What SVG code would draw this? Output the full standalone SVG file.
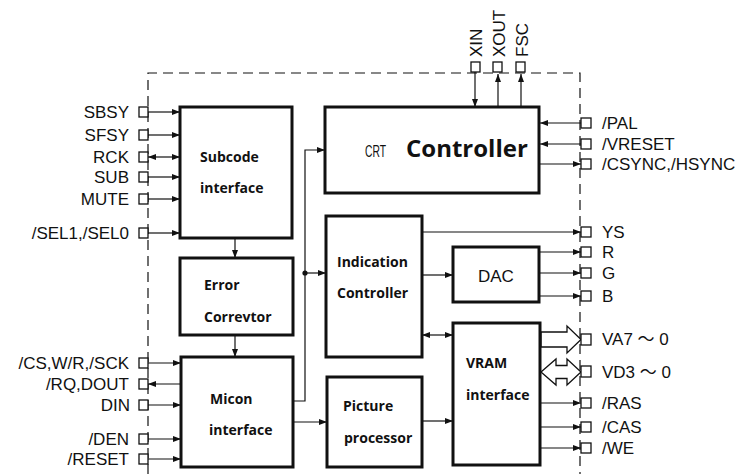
<svg xmlns="http://www.w3.org/2000/svg" width="741" height="474" viewBox="0 0 741 474">
<style>
.bg{fill:#fff}
.blk{fill:#fff;stroke:#111;stroke-width:3}
.pin{fill:#fff;stroke:#111;stroke-width:1.3}
.bnd{fill:none;stroke:#111;stroke-width:1.2;stroke-dasharray:10 6}
.ln{fill:none;stroke:#111;stroke-width:1.2}
.ha{fill:#fff;stroke:#111;stroke-width:1.3;stroke-linejoin:miter}
.lbl{font-family:"Liberation Sans",Arial,sans-serif;font-size:17px;fill:#111}
.bt{font-family:"Open Sans","Liberation Sans",sans-serif;font-weight:bold;font-size:14px;fill:#111}
.big{font-family:"Open Sans","Liberation Sans",sans-serif;font-weight:bold;font-size:24px;fill:#111}
.wv{font-family:"Liberation Sans","Noto Sans CJK JP",sans-serif}
</style>
<defs>
<marker id="ah" viewBox="0 0 8 6" refX="8" refY="3" markerWidth="8" markerHeight="6" markerUnits="userSpaceOnUse" orient="auto-start-reverse">
<path d="M0,0 L8,3 L0,6 z" fill="#111"/>
</marker>
</defs>
<rect class="bg" x="0" y="0" width="741" height="474"/>
<g id="boundary">
<path class="bnd" d="M148,474 V73 H580 V474"/>
</g>
<g id="connectors">
<line class="ln" x1="148" y1="112" x2="180" y2="112" marker-end="url(#ah)"/>
<line class="ln" x1="148" y1="135" x2="180" y2="135" marker-end="url(#ah)"/>
<line class="ln" x1="148" y1="157" x2="180" y2="157" marker-start="url(#ah)" marker-end="url(#ah)"/>
<line class="ln" x1="148" y1="177" x2="180" y2="177" marker-end="url(#ah)"/>
<line class="ln" x1="148" y1="199" x2="180" y2="199" marker-end="url(#ah)"/>
<line class="ln" x1="148" y1="233" x2="180" y2="233" marker-end="url(#ah)"/>
<line class="ln" x1="148" y1="363" x2="181" y2="363" marker-end="url(#ah)"/>
<line class="ln" x1="148" y1="384" x2="181" y2="384" marker-start="url(#ah)"/>
<line class="ln" x1="148" y1="405" x2="181" y2="405" marker-end="url(#ah)"/>
<line class="ln" x1="148" y1="439" x2="181" y2="439" marker-end="url(#ah)"/>
<line class="ln" x1="148" y1="459" x2="181" y2="459" marker-end="url(#ah)"/>
<line class="ln" x1="235" y1="238" x2="235" y2="258" marker-end="url(#ah)"/>
<line class="ln" x1="235" y1="335" x2="235" y2="357" marker-end="url(#ah)"/>
<path class="ln" d="M293,401 H305 V150 H325" marker-end="url(#ah)"/>
<circle cx="305" cy="273" r="2.6" fill="#111"/>
<line class="ln" x1="305" y1="273" x2="326" y2="273" marker-end="url(#ah)"/>
<line class="ln" x1="293" y1="422" x2="327" y2="422" marker-end="url(#ah)"/>
<line class="ln" x1="475" y1="72" x2="475" y2="107" marker-end="url(#ah)"/>
<line class="ln" x1="498" y1="107" x2="498" y2="74" marker-end="url(#ah)"/>
<line class="ln" x1="521" y1="107" x2="521" y2="74" marker-end="url(#ah)"/>
<line class="ln" x1="581" y1="123" x2="540" y2="123" marker-end="url(#ah)"/>
<line class="ln" x1="581" y1="144" x2="540" y2="144" marker-end="url(#ah)"/>
<line class="ln" x1="540" y1="164" x2="581" y2="164" marker-end="url(#ah)"/>
<line class="ln" x1="422" y1="232" x2="581" y2="232" marker-end="url(#ah)"/>
<line class="ln" x1="422" y1="275" x2="453" y2="275" marker-end="url(#ah)"/>
<line class="ln" x1="539" y1="252" x2="581" y2="252" marker-end="url(#ah)"/>
<line class="ln" x1="539" y1="273" x2="581" y2="273" marker-end="url(#ah)"/>
<line class="ln" x1="539" y1="296" x2="581" y2="296" marker-end="url(#ah)"/>
<line class="ln" x1="422" y1="335" x2="453" y2="335" marker-start="url(#ah)" marker-end="url(#ah)"/>
<line class="ln" x1="422" y1="421" x2="453" y2="421" marker-end="url(#ah)"/>
<line class="ln" x1="540" y1="403" x2="581" y2="403" marker-end="url(#ah)"/>
<line class="ln" x1="540" y1="427" x2="581" y2="427" marker-end="url(#ah)"/>
<line class="ln" x1="540" y1="448" x2="581" y2="448" marker-end="url(#ah)"/>
<polygon class="ha" points="541,332 567,332 567,326 581,339.5 567,353 567,347 541,347"/>
<polygon class="ha" points="541,372 556,359 556,365.5 567,365.5 567,359 581,372 567,385 567,378.5 556,378.5 556,385"/>
</g>
<g id="pins">
<rect class="pin" x="139" y="107" width="9" height="10"/>
<rect class="pin" x="139" y="130" width="9" height="10"/>
<rect class="pin" x="139" y="152" width="9" height="10"/>
<rect class="pin" x="139" y="172" width="9" height="10"/>
<rect class="pin" x="139" y="194" width="9" height="10"/>
<rect class="pin" x="139" y="228" width="9" height="10"/>
<rect class="pin" x="139" y="358" width="9" height="10"/>
<rect class="pin" x="139" y="379" width="9" height="10"/>
<rect class="pin" x="139" y="400" width="9" height="10"/>
<rect class="pin" x="139" y="434" width="9" height="10"/>
<rect class="pin" x="139" y="454" width="9" height="10"/>
<rect class="pin" x="471" y="62" width="9" height="10"/>
<rect class="pin" x="493" y="62" width="9" height="10"/>
<rect class="pin" x="516" y="62" width="9" height="10"/>
<rect class="pin" x="581" y="118" width="10" height="10"/>
<rect class="pin" x="581" y="139" width="10" height="10"/>
<rect class="pin" x="581" y="159" width="10" height="10"/>
<rect class="pin" x="581" y="227" width="10" height="10"/>
<rect class="pin" x="581" y="247" width="10" height="10"/>
<rect class="pin" x="581" y="268" width="10" height="10"/>
<rect class="pin" x="581" y="291" width="10" height="10"/>
<rect class="pin" x="581" y="334" width="10" height="11"/>
<rect class="pin" x="581" y="366" width="10" height="11"/>
<rect class="pin" x="581" y="398" width="10" height="10"/>
<rect class="pin" x="581" y="422" width="10" height="10"/>
<rect class="pin" x="581" y="443" width="10" height="10"/>
</g>
<g id="pin-labels">
<text class="lbl" x="129" y="118" text-anchor="end">SBSY</text>
<text class="lbl" x="129" y="141" text-anchor="end">SFSY</text>
<text class="lbl" x="129" y="163" text-anchor="end">RCK</text>
<text class="lbl" x="129" y="183" text-anchor="end">SUB</text>
<text class="lbl" x="129" y="205" text-anchor="end">MUTE</text>
<text class="lbl" x="129" y="239" text-anchor="end">/SEL1,/SEL0</text>
<text class="lbl" x="129" y="369" text-anchor="end">/CS,W/R,/SCK</text>
<text class="lbl" x="129" y="390" text-anchor="end">/RQ,DOUT</text>
<text class="lbl" x="130" y="411" text-anchor="end">DIN</text>
<text class="lbl" x="129" y="445" text-anchor="end">/DEN</text>
<text class="lbl" x="129" y="465" text-anchor="end">/RESET</text>
<text class="lbl" transform="translate(482,57) rotate(-90)">XIN</text>
<text class="lbl" transform="translate(505,57) rotate(-90)">XOUT</text>
<text class="lbl" transform="translate(528,57) rotate(-90)">FSC</text>
<text class="lbl" x="602" y="129">/PAL</text>
<text class="lbl" x="602" y="150">/VRESET</text>
<text class="lbl" x="602" y="170">/CSYNC,/HSYNC</text>
<text class="lbl" x="602" y="238">YS</text>
<text class="lbl" x="602" y="258">R</text>
<text class="lbl" x="602" y="279">G</text>
<text class="lbl" x="602" y="302">B</text>
<text class="lbl wv" x="602" y="345" xml:space="preserve">VA7 ～ 0</text>
<text class="lbl wv" x="602" y="378" xml:space="preserve">VD3 ～ 0</text>
<text class="lbl" x="602" y="409">/RAS</text>
<text class="lbl" x="602" y="433">/CAS</text>
<text class="lbl" x="602" y="454">/WE</text>
</g>
<g id="subcode">
<rect class="blk" x="180" y="107" width="112" height="131"/>
<text class="bt" x="200" y="162">Subcode</text>
<text class="bt" x="200" y="193">interface</text>
</g>
<g id="error">
<rect class="blk" x="180" y="258" width="113" height="77"/>
<text class="bt" x="204" y="290">Error</text>
<text class="bt" x="204" y="322">Correvtor</text>
</g>
<g id="micon">
<rect class="blk" x="181" y="357" width="112" height="110"/>
<text class="bt" x="210" y="404">Micon</text>
<text class="bt" x="209" y="435">interface</text>
</g>
<g id="crt">
<rect class="blk" x="325" y="107" width="214" height="86"/>
<text class="lbl" x="365" y="157" textLength="21" lengthAdjust="spacingAndGlyphs">CRT</text>
<text class="big" x="406" y="157">Controller</text>
</g>
<g id="indication">
<rect class="blk" x="326" y="216" width="96" height="141"/>
<text class="bt" x="337" y="267">Indication</text>
<text class="bt" x="337" y="298">Controller</text>
</g>
<g id="dac">
<rect class="blk" x="453" y="247" width="86" height="55"/>
<text class="lbl" x="478" y="282">DAC</text>
</g>
<g id="vram">
<rect class="blk" x="453" y="323" width="87" height="142"/>
<text class="bt" x="466" y="368">VRAM</text>
<text class="bt" x="466" y="400">interface</text>
</g>
<g id="picture">
<rect class="blk" x="327" y="377" width="95" height="90"/>
<text class="bt" x="343" y="411">Picture</text>
<text class="bt" x="344" y="443">processor</text>
</g>
</svg>
